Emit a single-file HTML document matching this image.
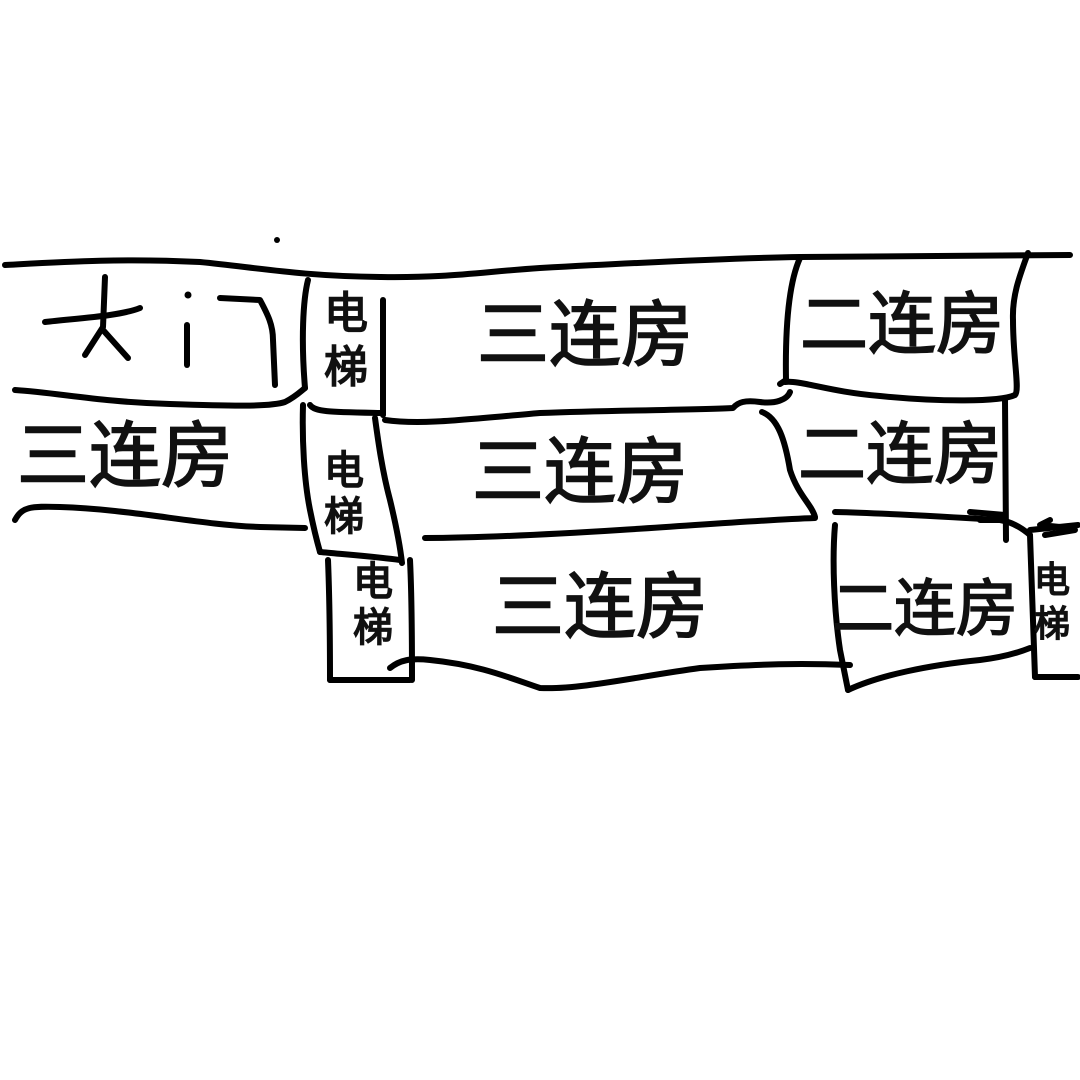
<!DOCTYPE html>
<html><head><meta charset="utf-8"><style>
html,body{margin:0;padding:0;background:#fff;}
svg{display:block}
text{font-family:"Liberation Sans","Noto Sans CJK SC",sans-serif;fill:#111;stroke:#111;stroke-width:1.6;}
</style></head><body>
<svg width="1080" height="1080" viewBox="0 0 1080 1080" xmlns="http://www.w3.org/2000/svg">
<rect width="1080" height="1080" fill="#fff"/>
<g fill="none" stroke="#000" stroke-width="6" stroke-linecap="round" stroke-linejoin="round">
<path d="M5,265 C60,262 120,258 200,262 C260,268 300,276 380,277 C450,278 480,272 540,268 C650,262 740,258 800,257 L1070,255"/>
<path d="M45,322 C80,318 120,316 140,308"/>
<path d="M105,277 L103,327 L85,355"/>
<path d="M103,330 L128,358"/>
<path d="M187,325 L187,365"/>
<path d="M220,298 L260,300 C268,315 273,325 273,340 L275,385"/>
<path d="M15,390 C60,393 100,402 170,404 C230,406 270,407 285,402 C295,397 300,392 305,388"/>
<path d="M308,280 C303,300 301,340 305,388"/>
<path d="M383,300 L383,415"/>
<path d="M310,405 C315,412 330,412 380,413"/>
<path d="M385,420 C420,425 460,420 540,413 C620,410 700,410 733,408 C738,402 745,400 760,402 C775,404 787,400 790,392"/>
<path d="M800,258 C790,280 785,320 786,380 L780,384"/>
<path d="M785,382 C800,380 830,392 880,396 C940,402 1000,402 1015,395 C1020,390 1013,360 1013,320 C1012,295 1020,275 1028,253"/>
<path d="M1005,400 L1006,540"/>
<path d="M762,412 C778,418 785,440 790,470 C798,495 812,505 815,517"/>
<path d="M815,518 C760,520 700,525 620,530 C540,535 470,538 425,538"/>
<path d="M303,405 C302,440 304,480 310,510 C314,530 318,545 320,552"/>
<path d="M320,552 C340,554 370,556 400,560"/>
<path d="M375,418 C378,440 382,470 390,500 C396,525 400,545 402,563"/>
<path d="M15,520 C22,507 30,506 60,507 C130,509 200,525 260,527 L305,528"/>
<path d="M328,560 C330,610 330,650 330,680"/>
<path d="M330,680 L410,680"/>
<path d="M410,560 C412,600 412,650 412,680"/>
<path d="M390,668 C400,660 410,658 430,660 C480,665 510,678 540,688 C580,690 640,676 700,668 C760,664 800,663 850,665"/>
<path d="M835,525 C832,560 834,610 840,650 L848,690"/>
<path d="M835,512 C880,513 950,517 1000,520 C1012,522 1022,528 1030,535"/>
<path d="M848,690 C880,675 930,665 980,660 C1005,657 1020,652 1030,648"/>
<path d="M1030,535 C1032,590 1034,640 1035,677"/>
<path d="M1035,677 L1078,677"/>
<path d="M1030,530 L1078,525"/>
<path d="M970,512 L1005,515 M980,520 L1005,520"/>
<path d="M1050,520 L1040,525 L1060,527 M1045,535 L1075,530"/>
</g>
<circle cx="277" cy="240" r="3" fill="#000"/>
<circle cx="188" cy="295" r="3.5" fill="#000"/>
<g font-size="72" text-anchor="middle">
<text x="585" y="360">三连房</text>
<text x="580" y="497">三连房</text>
<text x="600" y="632">三连房</text>
<text x="125" y="481">三连房</text>
</g>
<g font-size="68" text-anchor="middle">
<text x="902" y="348">二连房</text>
<text x="900" y="478">二连房</text>
</g>
<text x="925" y="630" font-size="62" text-anchor="middle">二连房</text>
<g font-size="44" text-anchor="middle">
<text x="346" y="328">电</text><text x="346" y="382">梯</text>
</g>
<g font-size="40" text-anchor="middle">
<text x="344" y="484">电</text><text x="344" y="530">梯</text>
<text x="373" y="595">电</text><text x="373" y="641">梯</text>
</g>
<g font-size="36" text-anchor="middle">
<text x="1052" y="592">电</text><text x="1052" y="636">梯</text>
</g>
</svg>
</body></html>
